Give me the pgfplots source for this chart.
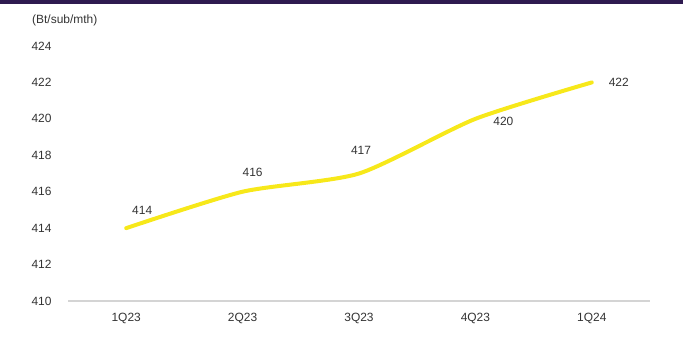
\documentclass[border=0pt]{standalone}
\usepackage{pgfplots}
\pgfplotsset{compat=1.18}
\usepackage{pgfplotstable}
\usepackage{fontspec}
\setmainfont{Liberation Sans}
\definecolor{ylw}{HTML}{F7E81A}
\definecolor{purp}{HTML}{2E1A50}
\definecolor{txt}{HTML}{333333}
\pgfplotstableread{
x y dx dy
0 414 16 18
1 416 10 19
2 417 2 23
3 420 28 -3
4 422 27 0
}\arpu
\begin{document}
\begin{tikzpicture}
\path[use as bounding box] (0,0) rectangle (683bp,346bp);
\fill[purp] (0,342bp) rectangle (683bp,346bp);
\begin{axis}[
  at={(68bp,45bp)}, anchor=south west, scale only axis,
  width=582bp, height=255bp,
  xmin=-0.5, xmax=4.5, ymin=410, ymax=424,
  ytick={410,412,...,424},
  xtick={0,...,4}, xticklabels={1Q23,2Q23,3Q23,4Q23,1Q24},
  axis x line*=bottom, axis y line*=left,
  y axis line style={draw=none},
  x axis line style={draw=black!17, line width=1.3bp, -},
  major tick length=0pt,
  /pgf/number format/assume math mode=true,
  tick label style={font=\fontsize{12}{14}\selectfont, text=txt},
  yticklabel style={xshift=-13bp},
  xticklabel style={yshift=-9bp},
  clip=false,
]
\addplot[ylw, line width=4bp, line cap=round, smooth, tension=0.4,
  nodes near coords, point meta=explicit,
  visualization depends on={\thisrow{dx} \as \dx},
  visualization depends on={\thisrow{dy} \as \dy},
  nodes near coords style={anchor=center, xshift=\dx bp, yshift=\dy bp,
    font=\fontsize{12}{14}\selectfont, text=txt,
    /pgf/number format/assume math mode=true}]
  table[x=x, y=y, meta=y] {\arpu};
\end{axis}
\node[anchor=west, text=txt, font=\fontsize{12}{14}\selectfont, inner sep=0pt] at (32bp,326bp) {(Bt/sub/mth)};
\end{tikzpicture}
\end{document}
